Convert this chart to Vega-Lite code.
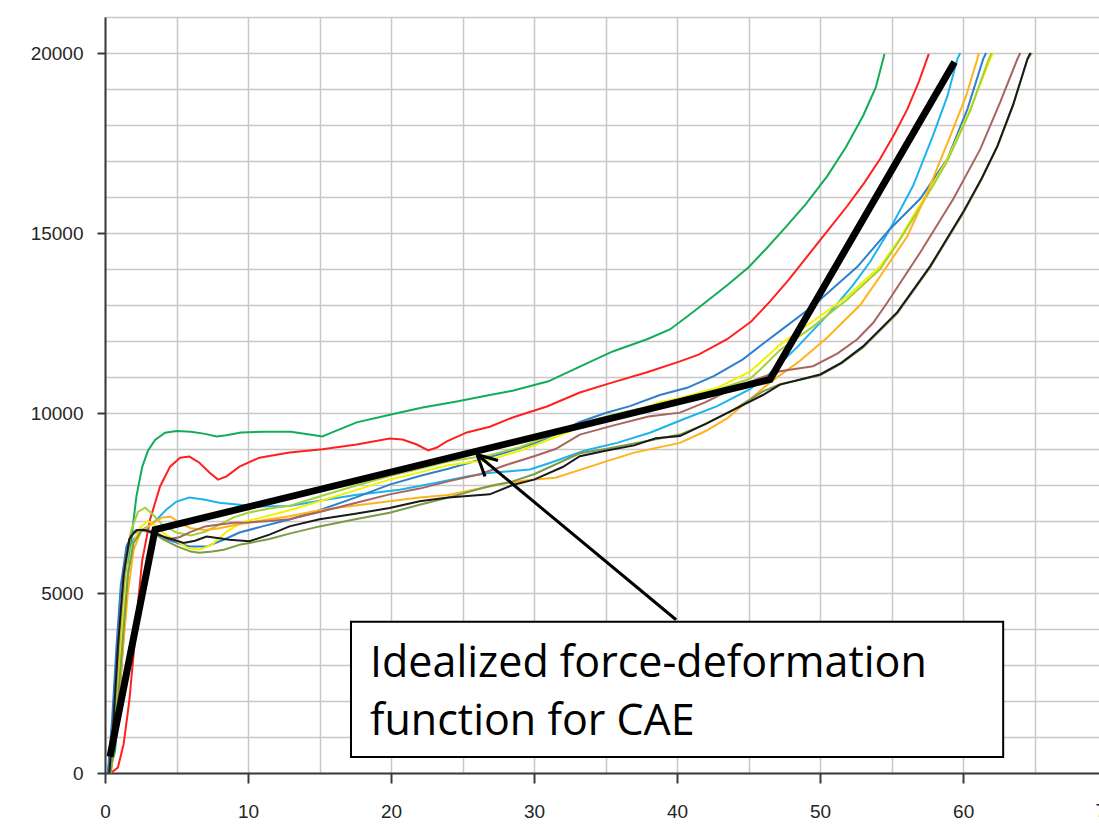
{
"$schema":"https://vega.github.io/schema/vega-lite/v6.json",
"width":994,"height":756,
"autosize":{"type":"none"},
"padding":{"left":105,"top":17,"right":0,"bottom":53},
"background":"white",
"config":{"view":{"stroke":null}},
"datasets":{
"curves":[
{"s":"green","x":0.3,"y":0},{"s":"green","x":0.7,"y":600},{"s":"green","x":1.0,"y":2000},{"s":"green","x":1.3,"y":3800},{"s":"green","x":1.6,"y":5500},{"s":"green","x":1.9,"y":6700},{"s":"green","x":2.2,"y":7700},{"s":"green","x":2.6,"y":8500},{"s":"green","x":3.0,"y":8950},{"s":"green","x":3.5,"y":9250},{"s":"green","x":4.2,"y":9450},{"s":"green","x":5.0,"y":9500},{"s":"green","x":6.0,"y":9480},{"s":"green","x":7.0,"y":9420},{"s":"green","x":7.8,"y":9350},{"s":"green","x":8.5,"y":9380},{"s":"green","x":9.5,"y":9460},{"s":"green","x":11,"y":9480},{"s":"green","x":13,"y":9480},{"s":"green","x":14.3,"y":9400},{"s":"green","x":15.2,"y":9350},{"s":"green","x":15.8,"y":9450},{"s":"green","x":17.6,"y":9740},{"s":"green","x":20,"y":9960},{"s":"green","x":22.2,"y":10150},{"s":"green","x":24.6,"y":10320},{"s":"green","x":26.9,"y":10500},{"s":"green","x":28.5,"y":10620},{"s":"green","x":31,"y":10880},{"s":"green","x":33.2,"y":11290},{"s":"green","x":35.5,"y":11710},{"s":"green","x":37.9,"y":12050},{"s":"green","x":39.5,"y":12320},{"s":"green","x":41.1,"y":12800},{"s":"green","x":43.5,"y":13550},{"s":"green","x":45,"y":14050},{"s":"green","x":46.2,"y":14550},{"s":"green","x":47.5,"y":15120},{"s":"green","x":49,"y":15800},{"s":"green","x":50.5,"y":16580},{"s":"green","x":51.8,"y":17380},{"s":"green","x":53,"y":18250},{"s":"green","x":53.9,"y":19050},{"s":"green","x":54.5,"y":19975},
{"s":"red","x":0.4,"y":0},{"s":"red","x":0.9,"y":150},{"s":"red","x":1.3,"y":800},{"s":"red","x":1.7,"y":2000},{"s":"red","x":2.0,"y":3300},{"s":"red","x":2.3,"y":4700},{"s":"red","x":2.6,"y":5900},{"s":"red","x":3.15,"y":7040},{"s":"red","x":3.85,"y":7960},{"s":"red","x":4.55,"y":8510},{"s":"red","x":5.25,"y":8760},{"s":"red","x":5.9,"y":8790},{"s":"red","x":6.6,"y":8620},{"s":"red","x":7.3,"y":8350},{"s":"red","x":7.9,"y":8150},{"s":"red","x":8.5,"y":8240},{"s":"red","x":9.4,"y":8510},{"s":"red","x":10.8,"y":8760},{"s":"red","x":12.9,"y":8900},{"s":"red","x":15.2,"y":8990},{"s":"red","x":17.6,"y":9125},{"s":"red","x":19.9,"y":9290},{"s":"red","x":20.8,"y":9264},{"s":"red","x":21.8,"y":9125},{"s":"red","x":22.6,"y":8960},{"s":"red","x":23.2,"y":9040},{"s":"red","x":23.9,"y":9210},{"s":"red","x":25.3,"y":9460},{"s":"red","x":26.9,"y":9620},{"s":"red","x":28.5,"y":9876},{"s":"red","x":30.9,"y":10180},{"s":"red","x":33.2,"y":10570},{"s":"red","x":35.5,"y":10850},{"s":"red","x":37.9,"y":11130},{"s":"red","x":40.2,"y":11434},{"s":"red","x":41.5,"y":11620},{"s":"red","x":43.5,"y":12050},{"s":"red","x":45.2,"y":12550},{"s":"red","x":46.5,"y":13100},{"s":"red","x":47.8,"y":13700},{"s":"red","x":49.2,"y":14400},{"s":"red","x":50.6,"y":15100},{"s":"red","x":51.9,"y":15750},{"s":"red","x":53.1,"y":16400},{"s":"red","x":54.2,"y":17060},{"s":"red","x":55.2,"y":17750},{"s":"red","x":56.1,"y":18440},{"s":"red","x":56.9,"y":19200},{"s":"red","x":57.6,"y":19975},
{"s":"sky","x":0.2,"y":0},{"s":"sky","x":0.5,"y":1000},{"s":"sky","x":0.8,"y":2800},{"s":"sky","x":1.1,"y":4500},{"s":"sky","x":1.5,"y":5800},{"s":"sky","x":2.0,"y":6500},{"s":"sky","x":2.6,"y":6750},{"s":"sky","x":3.4,"y":6950},{"s":"sky","x":4.3,"y":7320},{"s":"sky","x":5.0,"y":7540},{"s":"sky","x":5.9,"y":7650},{"s":"sky","x":6.9,"y":7600},{"s":"sky","x":8.0,"y":7510},{"s":"sky","x":9.4,"y":7450},{"s":"sky","x":10.8,"y":7400},{"s":"sky","x":12.9,"y":7420},{"s":"sky","x":15,"y":7560},{"s":"sky","x":17.5,"y":7720},{"s":"sky","x":20.6,"y":7870},{"s":"sky","x":23,"y":8050},{"s":"sky","x":25.3,"y":8240},{"s":"sky","x":27,"y":8340},{"s":"sky","x":28.3,"y":8380},{"s":"sky","x":29.7,"y":8430},{"s":"sky","x":31.1,"y":8610},{"s":"sky","x":33.5,"y":8950},{"s":"sky","x":35.8,"y":9170},{"s":"sky","x":38.1,"y":9450},{"s":"sky","x":40.4,"y":9820},{"s":"sky","x":42.8,"y":10190},{"s":"sky","x":45.1,"y":10660},{"s":"sky","x":46.3,"y":11030},{"s":"sky","x":48.4,"y":11830},{"s":"sky","x":50.7,"y":12800},{"s":"sky","x":52.3,"y":13550},{"s":"sky","x":53.5,"y":14200},{"s":"sky","x":54.9,"y":15120},{"s":"sky","x":56.5,"y":16310},{"s":"sky","x":57.9,"y":17710},{"s":"sky","x":58.9,"y":18800},{"s":"sky","x":59.6,"y":19840},{"s":"sky","x":59.8,"y":20000},
{"s":"blue","x":0.2,"y":0},{"s":"blue","x":0.5,"y":1500},{"s":"blue","x":0.8,"y":3500},{"s":"blue","x":1.1,"y":5200},{"s":"blue","x":1.5,"y":6300},{"s":"blue","x":2.0,"y":6700},{"s":"blue","x":2.45,"y":6760},{"s":"blue","x":3.0,"y":6740},{"s":"blue","x":3.6,"y":6680},{"s":"blue","x":4.3,"y":6500},{"s":"blue","x":5.0,"y":6400},{"s":"blue","x":5.9,"y":6290},{"s":"blue","x":7.1,"y":6290},{"s":"blue","x":8.3,"y":6480},{"s":"blue","x":9.4,"y":6680},{"s":"blue","x":11,"y":6850},{"s":"blue","x":12.9,"y":7040},{"s":"blue","x":15,"y":7300},{"s":"blue","x":17.5,"y":7650},{"s":"blue","x":19.9,"y":8010},{"s":"blue","x":22,"y":8250},{"s":"blue","x":24,"y":8450},{"s":"blue","x":26.2,"y":8700},{"s":"blue","x":28,"y":8900},{"s":"blue","x":30,"y":9150},{"s":"blue","x":32,"y":9500},{"s":"blue","x":33.2,"y":9750},{"s":"blue","x":35,"y":10000},{"s":"blue","x":36.7,"y":10190},{"s":"blue","x":38.8,"y":10500},{"s":"blue","x":40.7,"y":10700},{"s":"blue","x":42.6,"y":11030},{"s":"blue","x":44.6,"y":11490},{"s":"blue","x":46.1,"y":11950},{"s":"blue","x":47.2,"y":12280},{"s":"blue","x":49.5,"y":12970},{"s":"blue","x":51,"y":13500},{"s":"blue","x":52.6,"y":14060},{"s":"blue","x":54.9,"y":15120},{"s":"blue","x":57,"y":15950},{"s":"blue","x":58.9,"y":17060},{"s":"blue","x":60.3,"y":18440},{"s":"blue","x":61.4,"y":19830},{"s":"blue","x":61.6,"y":20000},
{"s":"yellow","x":0.4,"y":0},{"s":"yellow","x":0.8,"y":1500},{"s":"yellow","x":1.1,"y":3500},{"s":"yellow","x":1.5,"y":5300},{"s":"yellow","x":1.9,"y":6300},{"s":"yellow","x":2.4,"y":6800},{"s":"yellow","x":3.0,"y":7000},{"s":"yellow","x":3.6,"y":6850},{"s":"yellow","x":4.3,"y":6600},{"s":"yellow","x":5.0,"y":6450},{"s":"yellow","x":5.8,"y":6250},{"s":"yellow","x":6.6,"y":6200},{"s":"yellow","x":7.5,"y":6350},{"s":"yellow","x":8.5,"y":6700},{"s":"yellow","x":9.5,"y":6950},{"s":"yellow","x":11,"y":7100},{"s":"yellow","x":12.9,"y":7300},{"s":"yellow","x":15,"y":7550},{"s":"yellow","x":17.5,"y":7850},{"s":"yellow","x":19.9,"y":8150},{"s":"yellow","x":22,"y":8350},{"s":"yellow","x":24,"y":8550},{"s":"yellow","x":26.9,"y":8700},{"s":"yellow","x":29,"y":8950},{"s":"yellow","x":31,"y":9250},{"s":"yellow","x":33.2,"y":9600},{"s":"yellow","x":36.7,"y":10010},{"s":"yellow","x":38.8,"y":10300},{"s":"yellow","x":40.2,"y":10420},{"s":"yellow","x":42.8,"y":10700},{"s":"yellow","x":45.1,"y":11150},{"s":"yellow","x":47.2,"y":11900},{"s":"yellow","x":49.5,"y":12550},{"s":"yellow","x":51.9,"y":13240},{"s":"yellow","x":54.2,"y":14080},{"s":"yellow","x":55.5,"y":14800},{"s":"yellow","x":56.5,"y":15470},{"s":"yellow","x":57.8,"y":16300},{"s":"yellow","x":58.9,"y":17050},{"s":"yellow","x":60.5,"y":18440},{"s":"yellow","x":61.9,"y":19840},{"s":"yellow","x":62.1,"y":20000},
{"s":"yellowgreen","x":0.3,"y":0},{"s":"yellowgreen","x":0.7,"y":1500},{"s":"yellowgreen","x":1.0,"y":3500},{"s":"yellowgreen","x":1.4,"y":5500},{"s":"yellowgreen","x":1.8,"y":6700},{"s":"yellowgreen","x":2.3,"y":7250},{"s":"yellowgreen","x":2.8,"y":7370},{"s":"yellowgreen","x":3.3,"y":7200},{"s":"yellowgreen","x":4.0,"y":6900},{"s":"yellowgreen","x":5.0,"y":6680},{"s":"yellowgreen","x":6.0,"y":6600},{"s":"yellowgreen","x":7.0,"y":6700},{"s":"yellowgreen","x":8.0,"y":6900},{"s":"yellowgreen","x":9.0,"y":7100},{"s":"yellowgreen","x":10,"y":7230},{"s":"yellowgreen","x":11.5,"y":7350},{"s":"yellowgreen","x":12.9,"y":7420},{"s":"yellowgreen","x":15,"y":7680},{"s":"yellowgreen","x":17.5,"y":7980},{"s":"yellowgreen","x":19.9,"y":8250},{"s":"yellowgreen","x":22,"y":8450},{"s":"yellowgreen","x":24,"y":8650},{"s":"yellowgreen","x":26.9,"y":8830},{"s":"yellowgreen","x":29,"y":9050},{"s":"yellowgreen","x":31,"y":9350},{"s":"yellowgreen","x":33.2,"y":9700},{"s":"yellowgreen","x":35.5,"y":9950},{"s":"yellowgreen","x":38.8,"y":10250},{"s":"yellowgreen","x":40.2,"y":10400},{"s":"yellowgreen","x":42.8,"y":10650},{"s":"yellowgreen","x":45.1,"y":10950},{"s":"yellowgreen","x":45.8,"y":11200},{"s":"yellowgreen","x":47.2,"y":11750},{"s":"yellowgreen","x":49.5,"y":12400},{"s":"yellowgreen","x":51.9,"y":13150},{"s":"yellowgreen","x":54.2,"y":14000},{"s":"yellowgreen","x":55.4,"y":14700},{"s":"yellowgreen","x":56.5,"y":15400},{"s":"yellowgreen","x":57.8,"y":16250},{"s":"yellowgreen","x":58.9,"y":17000},{"s":"yellowgreen","x":60.5,"y":18400},{"s":"yellowgreen","x":61.8,"y":19840},{"s":"yellowgreen","x":62.0,"y":20000},
{"s":"orange","x":0.4,"y":0},{"s":"orange","x":0.8,"y":1200},{"s":"orange","x":1.2,"y":3200},{"s":"orange","x":1.6,"y":5000},{"s":"orange","x":2.0,"y":6200},{"s":"orange","x":2.5,"y":6700},{"s":"orange","x":3.2,"y":6900},{"s":"orange","x":4.0,"y":7100},{"s":"orange","x":4.6,"y":7120},{"s":"orange","x":5.2,"y":6950},{"s":"orange","x":6,"y":6800},{"s":"orange","x":7,"y":6750},{"s":"orange","x":8,"y":6800},{"s":"orange","x":9,"y":6880},{"s":"orange","x":10,"y":6950},{"s":"orange","x":11.5,"y":7050},{"s":"orange","x":12.9,"y":7130},{"s":"orange","x":15,"y":7300},{"s":"orange","x":17.5,"y":7430},{"s":"orange","x":19.9,"y":7550},{"s":"orange","x":22,"y":7650},{"s":"orange","x":24,"y":7720},{"s":"orange","x":26.2,"y":7900},{"s":"orange","x":28,"y":8050},{"s":"orange","x":30,"y":8150},{"s":"orange","x":31.5,"y":8200},{"s":"orange","x":33.2,"y":8420},{"s":"orange","x":35,"y":8650},{"s":"orange","x":37,"y":8900},{"s":"orange","x":40.2,"y":9170},{"s":"orange","x":42,"y":9500},{"s":"orange","x":43.5,"y":9850},{"s":"orange","x":46.5,"y":10850},{"s":"orange","x":48.6,"y":11450},{"s":"orange","x":50.5,"y":12100},{"s":"orange","x":52.8,"y":13000},{"s":"orange","x":54.2,"y":13800},{"s":"orange","x":56.1,"y":14910},{"s":"orange","x":57.5,"y":16130},{"s":"orange","x":59.1,"y":17690},{"s":"orange","x":60.2,"y":18800},{"s":"orange","x":61,"y":19840},{"s":"orange","x":61.1,"y":20000},
{"s":"brown","x":0.3,"y":0},{"s":"brown","x":0.7,"y":2000},{"s":"brown","x":1.0,"y":4000},{"s":"brown","x":1.4,"y":5800},{"s":"brown","x":1.8,"y":6600},{"s":"brown","x":2.4,"y":6750},{"s":"brown","x":3.0,"y":6700},{"s":"brown","x":3.8,"y":6600},{"s":"brown","x":4.5,"y":6500},{"s":"brown","x":5.2,"y":6550},{"s":"brown","x":6,"y":6700},{"s":"brown","x":7,"y":6850},{"s":"brown","x":8,"y":6900},{"s":"brown","x":9,"y":6950},{"s":"brown","x":10,"y":6960},{"s":"brown","x":11.5,"y":7000},{"s":"brown","x":12.9,"y":7050},{"s":"brown","x":15,"y":7250},{"s":"brown","x":17.5,"y":7500},{"s":"brown","x":19.9,"y":7740},{"s":"brown","x":22,"y":7900},{"s":"brown","x":24,"y":8100},{"s":"brown","x":26.2,"y":8300},{"s":"brown","x":28,"y":8550},{"s":"brown","x":30,"y":8800},{"s":"brown","x":31.5,"y":9000},{"s":"brown","x":33.2,"y":9400},{"s":"brown","x":35.5,"y":9650},{"s":"brown","x":38,"y":9900},{"s":"brown","x":40.2,"y":10010},{"s":"brown","x":42,"y":10300},{"s":"brown","x":44,"y":10700},{"s":"brown","x":46,"y":11000},{"s":"brown","x":47.2,"y":11160},{"s":"brown","x":49.5,"y":11300},{"s":"brown","x":51.2,"y":11650},{"s":"brown","x":52.6,"y":12050},{"s":"brown","x":53.7,"y":12500},{"s":"brown","x":54.7,"y":13070},{"s":"brown","x":57,"y":14460},{"s":"brown","x":59.3,"y":15940},{"s":"brown","x":61.2,"y":17330},{"s":"brown","x":62.6,"y":18640},{"s":"brown","x":63.8,"y":19840},{"s":"brown","x":64.0,"y":20000},
{"s":"olive","x":0.4,"y":0},{"s":"olive","x":0.8,"y":1500},{"s":"olive","x":1.2,"y":3500},{"s":"olive","x":1.6,"y":5500},{"s":"olive","x":2.0,"y":6400},{"s":"olive","x":2.6,"y":6750},{"s":"olive","x":3.3,"y":6700},{"s":"olive","x":4.0,"y":6500},{"s":"olive","x":5.0,"y":6300},{"s":"olive","x":6.0,"y":6150},{"s":"olive","x":6.6,"y":6120},{"s":"olive","x":7.5,"y":6150},{"s":"olive","x":8.3,"y":6200},{"s":"olive","x":9.5,"y":6350},{"s":"olive","x":10.1,"y":6390},{"s":"olive","x":11.5,"y":6500},{"s":"olive","x":12.9,"y":6650},{"s":"olive","x":15,"y":6850},{"s":"olive","x":17.5,"y":7050},{"s":"olive","x":19.9,"y":7230},{"s":"olive","x":22,"y":7450},{"s":"olive","x":24,"y":7650},{"s":"olive","x":26.9,"y":7970},{"s":"olive","x":28.5,"y":8100},{"s":"olive","x":30,"y":8300},{"s":"olive","x":33.2,"y":8880},{"s":"olive","x":35,"y":9000},{"s":"olive","x":37,"y":9150},{"s":"olive","x":40.2,"y":9400},{"s":"olive","x":42,"y":9700},{"s":"olive","x":44,"y":10100},{"s":"olive","x":46,"y":10600},{"s":"olive","x":47.2,"y":10800},{"s":"olive","x":50,"y":11050},{"s":"olive","x":51.5,"y":11380},{"s":"olive","x":53,"y":11820},{"s":"olive","x":55.4,"y":12770},{"s":"olive","x":57.7,"y":14050},{"s":"olive","x":60,"y":15550},{"s":"olive","x":61.3,"y":16500},{"s":"olive","x":62.4,"y":17400},{"s":"olive","x":63.5,"y":18550},{"s":"olive","x":64.5,"y":19830},{"s":"olive","x":64.8,"y":20000},
{"s":"black","x":0.3,"y":0},{"s":"black","x":0.6,"y":1500},{"s":"black","x":0.9,"y":3500},{"s":"black","x":1.3,"y":5500},{"s":"black","x":1.7,"y":6500},{"s":"black","x":2.2,"y":6750},{"s":"black","x":2.8,"y":6750},{"s":"black","x":3.5,"y":6650},{"s":"black","x":4.2,"y":6550},{"s":"black","x":4.8,"y":6480},{"s":"black","x":5.5,"y":6390},{"s":"black","x":6.3,"y":6450},{"s":"black","x":7.1,"y":6570},{"s":"black","x":8,"y":6520},{"s":"black","x":8.7,"y":6480},{"s":"black","x":10.1,"y":6440},{"s":"black","x":11.5,"y":6620},{"s":"black","x":12.9,"y":6850},{"s":"black","x":15,"y":7050},{"s":"black","x":17.5,"y":7200},{"s":"black","x":19.9,"y":7360},{"s":"black","x":22,"y":7550},{"s":"black","x":24,"y":7650},{"s":"black","x":26.9,"y":7740},{"s":"black","x":28.5,"y":8000},{"s":"black","x":30,"y":8150},{"s":"black","x":32,"y":8500},{"s":"black","x":33.2,"y":8800},{"s":"black","x":35,"y":8950},{"s":"black","x":37,"y":9100},{"s":"black","x":38.5,"y":9300},{"s":"black","x":40.2,"y":9360},{"s":"black","x":42,"y":9700},{"s":"black","x":44,"y":10100},{"s":"black","x":46,"y":10500},{"s":"black","x":47.2,"y":10790},{"s":"black","x":50,"y":11070},{"s":"black","x":51.5,"y":11400},{"s":"black","x":53,"y":11850},{"s":"black","x":55.4,"y":12800},{"s":"black","x":57.7,"y":14080},{"s":"black","x":60,"y":15580},{"s":"black","x":61.3,"y":16520},{"s":"black","x":62.4,"y":17420},{"s":"black","x":63.5,"y":18570},{"s":"black","x":64.5,"y":19840},{"s":"black","x":64.7,"y":20000}
],
"ideal":[{"x":0.35,"y":450},{"x":3.5,"y":6760},{"x":46.5,"y":10930},{"x":59.4,"y":19750}],
"arrow":[
{"part":"shaft","k":1,"x":39.93,"y":4257},{"part":"shaft","k":2,"x":26.01,"y":8847},
{"part":"head","k":1,"x":27.48,"y":8680},{"part":"head","k":2,"x":26.01,"y":8847},{"part":"head","k":3,"x":26.57,"y":8235}
],
"box":[{"x":17.2,"x2":62.8,"y":4201,"y2":445}],
"label":[{"x":18.53,"y":2671,"t":"Idealized force-deformation"},{"x":18.53,"y":1057,"t":"function for CAE"}],
"edge":[{"x":70,"y":0,"t":"70"}]
},
"encoding":{
"x":{"field":"x","type":"quantitative","title":null,
 "scale":{"domain":[0,69.5],"nice":false,"zero":false},
 "axis":{"values":[0,5,10,15,20,25,30,35,40,45,50,55,60,65],"grid":true,"gridColor":"#c8c8c8","gridWidth":1.5,
  "domainColor":"#3a3a3a","domainWidth":2,"tickColor":"#3a3a3a","tickWidth":2,"tickSize":10,
  "tickOpacity":{"condition":{"test":"datum.value % 10 === 0","value":1},"value":0},
  "labelExpr":"datum.value % 10 === 0 ? datum.label : ''","labelFont":"Liberation Sans","labelFontSize":19,"labelColor":"#262626","labelPadding":19,"labelOverlap":false,"labelFlush":false}},
"y":{"field":"y","type":"quantitative","title":null,
 "scale":{"domain":[0,21000],"nice":false,"zero":false},
 "axis":{"values":[0,1000,2000,3000,4000,5000,6000,7000,8000,9000,10000,11000,12000,13000,14000,15000,16000,17000,18000,19000,20000,21000],"grid":true,"gridColor":"#c8c8c8","gridWidth":1.5,
  "domainColor":"#3a3a3a","domainWidth":2,"tickColor":"#3a3a3a","tickWidth":2,"tickSize":8,
  "tickOpacity":{"condition":{"test":"datum.value % 5000 === 0 && datum.value <= 20000","value":1},"value":0},
  "format":"d","labelExpr":"datum.value % 5000 === 0 && datum.value <= 20000 ? datum.label : ''","labelFont":"Liberation Sans","labelFontSize":19,"labelColor":"#262626","labelPadding":14,"labelOverlap":false,"labelFlush":false}}
},
"layer":[
{"data":{"name":"curves"},"mark":{"type":"line","strokeWidth":2},
 "encoding":{"color":{"field":"s","type":"nominal","legend":null,
  "scale":{"domain":["green","red","sky","blue","yellow","yellowgreen","orange","brown","olive","black"],
   "range":["#12ad58","#ff2020","#1cb4ee","#2e7fce","#f2f200","#a6d035","#ffb21c","#a8655f","#7c9a48","#1a1a1a"]}}}},
{"data":{"name":"ideal"},"mark":{"type":"line","strokeWidth":7,"color":"#000000","strokeJoin":"miter"}},
{"data":{"name":"arrow"},"mark":{"type":"line","strokeWidth":3,"color":"#000000"},
 "encoding":{"detail":{"field":"part","type":"nominal"},"order":{"field":"k","type":"quantitative"}}},
{"data":{"name":"box"},"mark":{"type":"rect","fill":"#ffffff","stroke":"#000000","strokeWidth":2},
 "encoding":{"x2":{"field":"x2"},"y2":{"field":"y2"}}},
{"data":{"name":"label"},"mark":{"type":"text","align":"left","baseline":"alphabetic","font":"Open Sans","fontSize":43,"color":"#000000"},
 "encoding":{"text":{"field":"t","type":"nominal"}}},
{"data":{"name":"edge"},"mark":{"type":"text","align":"center","baseline":"top","dy":29,"font":"Liberation Sans","fontSize":19,"color":"#262626"},
 "encoding":{"text":{"field":"t","type":"nominal"}}}
]
}
